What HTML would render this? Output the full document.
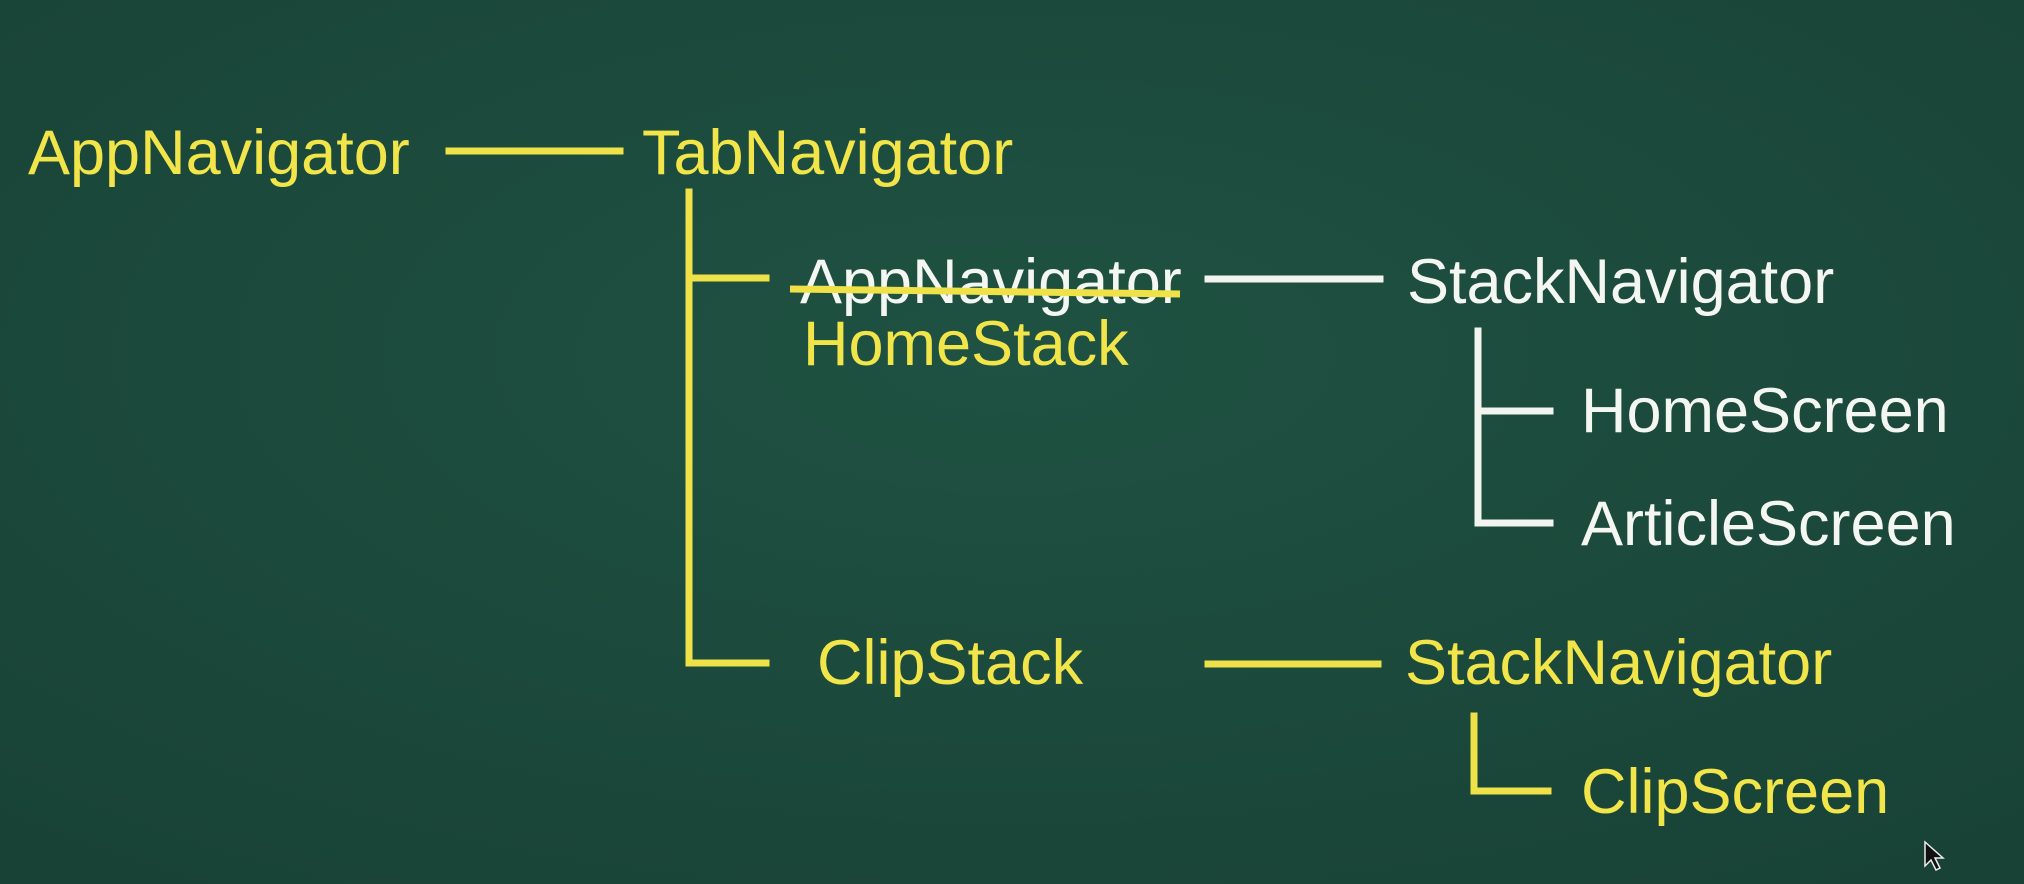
<!DOCTYPE html>
<html><head><meta charset="utf-8"><style>
html,body{margin:0;padding:0;}
body{width:2024px;height:884px;overflow:hidden;background:#1c4a3b;}
svg{display:block;}
text{font-family:"Liberation Sans","DejaVu Sans",sans-serif;font-size:63px;}
.y{fill:#f1e54a;}
.w{fill:#f4f6f2;}
</style></head><body>
<svg width="2024" height="884" viewBox="0 0 2024 884" xmlns="http://www.w3.org/2000/svg">
<defs>
<radialGradient id="bg" cx="50%" cy="40%" r="75%">
<stop offset="0" stop-color="#1f5242"/>
<stop offset="1" stop-color="#184236"/>
</radialGradient>
</defs>
<rect width="2024" height="884" fill="url(#bg)"/>
<g stroke-linecap="square" fill="none">
<g stroke="#efe148" stroke-width="7">
<line x1="449" y1="151" x2="620" y2="151"/>
<line x1="689" y1="192" x2="689" y2="663"/>
<line x1="689" y1="278" x2="766" y2="278"/>
<line x1="689" y1="663" x2="766" y2="663"/>
<line x1="1208" y1="664" x2="1378" y2="664"/>
<polyline points="1474,716 1474,791 1548,791"/>
</g>
<g stroke="#f2f4ef" stroke-width="7">
<line x1="1208" y1="279" x2="1380" y2="279"/>
<polyline points="1478,331 1478,523 1550,523"/>
<line x1="1478" y1="411" x2="1550" y2="411"/>
</g>
</g>
<text class="y" x="28" y="174">AppNavigator</text>
<text class="y" x="642" y="174">TabNavigator</text>
<text class="w" x="800" y="303">AppNavigator</text>
<line x1="790" y1="289" x2="1180" y2="294" stroke="#efe148" stroke-width="7"/>
<text class="y" x="803" y="365">HomeStack</text>
<text class="w" x="1407" y="303">StackNavigator</text>
<text class="w" x="1581" y="432">HomeScreen</text>
<text class="w" x="1581" y="545">ArticleScreen</text>
<text class="y" x="817" y="684">ClipStack</text>
<text class="y" x="1405" y="684">StackNavigator</text>
<text class="y" x="1581" y="813">ClipScreen</text>
<path d="M1925,842 L1925,866 L1931,860 L1936,870 L1940,868 L1935,858 L1943,858 Z" fill="#111" stroke="#eee" stroke-width="1.5"/>
</svg>
</body></html>
